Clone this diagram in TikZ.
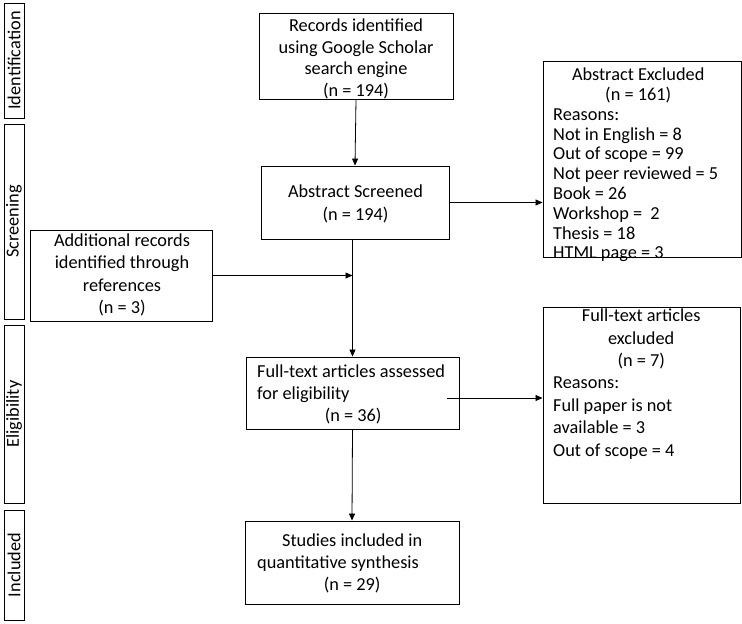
\documentclass[tikz,border=0pt]{standalone}
\usepackage{fontspec}
\setmainfont{Carlito}
\usetikzlibrary{arrows.meta,calc}
\begin{document}
\begin{tikzpicture}[x=1pt,y=-1pt,
  fnt/.style={font=\fontsize{18.3pt}{22.4pt}\selectfont},
  box/.style={draw, line width=0.9pt, inner sep=0pt},
  txt/.style={fnt, inner sep=0pt},
  phase/.style={box, fnt, rotate=90},
  arr/.style={-{Triangle[length=7pt,width=6pt]}, line width=0.8pt}]
\useasboundingbox (0,0) rectangle (742,624);
% phase labels
\node[phase, minimum width=115pt, minimum height=20pt] (ident) at (14,60.5) {Identification};
\node[phase, minimum width=195pt, minimum height=20pt] (screen) at (14,221.5) {Screening};
\node[phase, minimum width=178pt, minimum height=20pt] (elig) at (14,414) {Eligibility};
\node[phase, minimum width=110pt, minimum height=20pt] (incl) at (14,565) {Included};
% boxes
\node[box, minimum width=194pt, minimum height=86pt] (rec) at (356,56) {};
\node[box, minimum width=188pt, minimum height=73pt] (abs) at (355,202.5) {};
\node[box, minimum width=198pt, minimum height=196pt] (excl1) at (642,159) {};
\node[box, minimum width=182pt, minimum height=91pt] (add) at (121,275.5) {};
\node[box, minimum width=213pt, minimum height=72pt] (ft) at (352.5,393) {};
\node[box, minimum width=197pt, minimum height=196pt] (excl2) at (641.5,405) {};
\node[box, minimum width=214pt, minimum height=83pt] (inc) at (352,562.5) {};
% texts
\node[txt, align=center, font=\fontsize{18.3pt}{21.7pt}\selectfont] (recT) at (356,59)
  {Records identified\\using Google Scholar\\search engine\\(n = 194)};
\node[txt, align=center] (absT) at (355.5,204)
  {Abstract Screened\\(n = 194)};
\node[txt, align=left, anchor=west, font=\fontsize{18.3pt}{19.8pt}\selectfont] (excl1T) at (553,165)
  {\makebox[170pt]{Abstract Excluded}\\ \makebox[170pt]{(n = 161)}\\ Reasons:\\ Not in English = 8\\ Out of scope = 99\\ Not peer reviewed = 5\\ Book = 26\\ Workshop =\ \ 2\\ Thesis = 18\\ HTML page = 3};
\node[txt, align=center] (addT) at (122,275)
  {Additional records\\identified through\\references\\(n = 3)};
\node[txt, align=left, anchor=west] (ftT) at (257,394.5)
  {Full-text articles assessed\\ for eligibility\\ \makebox[192pt]{(n = 36)}};
\node[txt, align=left, anchor=west] (excl2T) at (553,384)
  {\makebox[176pt]{Full-text articles}\\ \makebox[176pt]{excluded}\\ \makebox[176pt]{(n = 7)}\\ Reasons:\\ Full paper is not\\ available = 3\\ Out of scope = 4};
\node[txt, align=left, anchor=west] (incT) at (257,563.5)
  {\makebox[190pt]{Studies included in}\\ quantitative synthesis\\ \makebox[190pt]{(n = 29)}};
% connectors
\draw[arr] (rec.south) -- (abs.north);
\draw[arr] (abs.east) -- (abs.east -| excl1.west);
\draw[arr] (abs.south -| ft.north) -- (ft.north);
\coordinate (j) at (add.east -| ft.north);
\draw[arr] (add.east) -- (j);
\coordinate (fto) at ($(ft.east)+(-12,5)$);
\draw[arr] (fto) -- (fto -| excl2.west);
\draw[arr] (ft.south) -- (inc.north);
\end{tikzpicture}
\end{document}
